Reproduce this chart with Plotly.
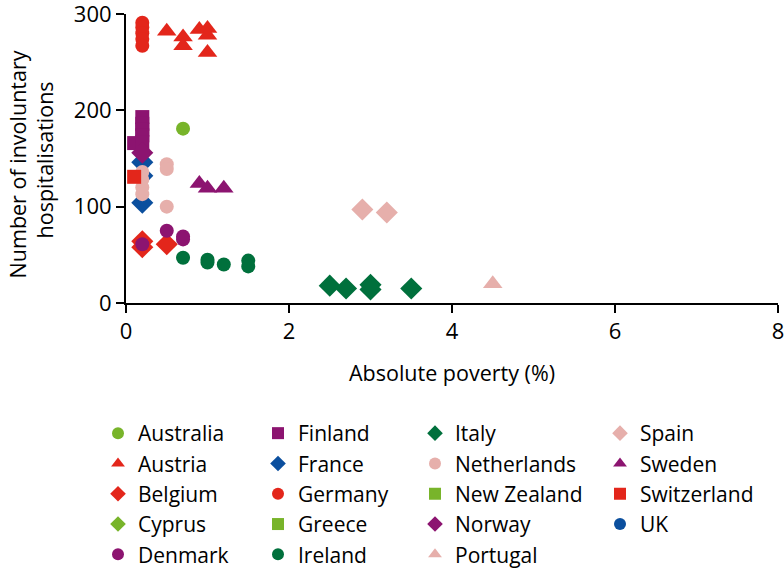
import plotly.graph_objects as go

# absolute poverty (%) vs number of involuntary hospitalisations, per country
countries = ["Australia", "Austria", "Belgium", "Cyprus", "Denmark",
             "Finland", "France", "Germany", "Greece", "Ireland",
             "Italy", "Netherlands", "New Zealand", "Norway", "Portugal",
             "Spain", "Sweden", "Switzerland", "UK"]

australia_x = [0.7]
australia_y = [181]
austria_x = [0.5, 0.7, 0.7, 0.9, 1.0, 1.0, 1.0]
austria_y = [282, 276, 267, 284, 285, 278, 260]
belgium_x = [0.2, 0.2, 0.5]
belgium_y = [64, 58, 61]
cyprus_x = [None]
cyprus_y = [None]
denmark_x = [0.2, 0.5, 0.7, 0.7]
denmark_y = [61, 75, 69, 66]
finland_x = [0.1, 0.2, 0.2, 0.2, 0.2, 0.2]
finland_y = [166, 193, 186, 180, 174, 167]
france_x = [0.2, 0.2, 0.2]
france_y = [146, 132, 104]
germany_x = [0.2, 0.2, 0.2, 0.2, 0.2]
germany_y = [291, 286, 280, 274, 267]
greece_x = [None]
greece_y = [None]
ireland_x = [0.7, 1.0, 1.0, 1.2, 1.5, 1.5]
ireland_y = [47, 45, 42, 40, 44, 38]
italy_x = [2.5, 2.7, 3.0, 3.0, 3.5]
italy_y = [18, 15, 19, 14, 15]
netherlands_x = [0.2, 0.2, 0.2, 0.2, 0.5, 0.5, 0.5]
netherlands_y = [136, 128, 120, 113, 144, 139, 100]
newzealand_x = [None]
newzealand_y = [None]
norway_x = [0.2]
norway_y = [156]
portugal_x = [4.5]
portugal_y = [20]
spain_x = [2.9, 3.2]
spain_y = [97, 94]
sweden_x = [0.9, 1.0, 1.2]
sweden_y = [124, 119, 119]
switzerland_x = [0.1]
switzerland_y = [131]
uk_x = [None]
uk_y = [None]

red = "#e3261b"
purple = "#8c1470"
blue = "#0b4f9e"
lgreen = "#78b42a"
dgreen = "#00703c"
pink = "#e6afab"

series = [
    ("Australia", australia_x, australia_y, "circle", lgreen),
    ("Austria", austria_x, austria_y, "triangle-up", red),
    ("Belgium", belgium_x, belgium_y, "diamond", red),
    ("Cyprus", cyprus_x, cyprus_y, "diamond", lgreen),
    ("Denmark", denmark_x, denmark_y, "circle", purple),
    ("Finland", finland_x, finland_y, "square", purple),
    ("France", france_x, france_y, "diamond", blue),
    ("Germany", germany_x, germany_y, "circle", red),
    ("Greece", greece_x, greece_y, "square", lgreen),
    ("Ireland", ireland_x, ireland_y, "circle", dgreen),
    ("Italy", italy_x, italy_y, "diamond", dgreen),
    ("Netherlands", netherlands_x, netherlands_y, "circle", pink),
    ("New Zealand", newzealand_x, newzealand_y, "square", lgreen),
    ("Norway", norway_x, norway_y, "diamond", purple),
    ("Portugal", portugal_x, portugal_y, "triangle-up", pink),
    ("Spain", spain_x, spain_y, "diamond", pink),
    ("Sweden", sweden_x, sweden_y, "triangle-up", purple),
    ("Switzerland", switzerland_x, switzerland_y, "square", red),
    ("UK", uk_x, uk_y, "circle", blue),
]

# four legend boxes = four columns, filled top to bottom
legend_names = ["legend", "legend2", "legend3", "legend4"]

fig = go.Figure()
for i, (name, xs, ys, sym, col) in enumerate(series):
    size = 14 if sym in ("circle", "square") else 17
    fig.add_trace(go.Scatter(
        x=xs, y=ys, mode="markers", name=name,
        marker=dict(symbol=sym, color=col, size=size, line=dict(width=0)),
        legend=legend_names[i // 5], cliponaxis=False,
    ))

font = "Open Sans"
leg_common = dict(xref="container", yref="container", yanchor="top", xanchor="left",
                  itemsizing="constant", itemwidth=30, bgcolor="rgba(0,0,0,0)",
                  font=dict(family=font, size=21, color="black"))
leg_x = [98, 258, 415, 600]
layout_legends = {}
for name, lx in zip(legend_names, leg_x):
    layout_legends[name] = dict(x=lx / 784, y=1 - 413 / 571, **leg_common)

axis_common = dict(showgrid=False, zeroline=False, automargin=False,
                   showline=True, linecolor="black", linewidth=2,
                   ticks="outside", ticklen=8, tickwidth=2, tickcolor="black",
                   tickfont=dict(size=22), ticklabeloverflow="allow")

fig.update_layout(
    width=784, height=571,
    margin=dict(l=126, r=6, t=14, b=268, autoexpand=False),
    plot_bgcolor="white", paper_bgcolor="white",
    font=dict(family=font, size=21, color="black"),
    showlegend=True,
    xaxis=dict(range=[0, 8], dtick=2, **axis_common),
    yaxis=dict(range=[0, 300], dtick=100, **axis_common),
    **layout_legends,
)

# axis titles (paper coords, plot area is 652 x 289 px)
fig.add_annotation(text="Absolute poverty (%)", xref="paper", yref="paper",
                   x=0.5, y=-0.239, xanchor="center", yanchor="middle",
                   showarrow=False, font=dict(size=21.5))
fig.add_annotation(text="Number of involuntary", xref="paper", yref="paper",
                   x=-0.167, y=0.48, xanchor="center", yanchor="middle",
                   showarrow=False, textangle=-90, font=dict(size=21.5))
fig.add_annotation(text="hospitalisations", xref="paper", yref="paper",
                   x=-0.125, y=0.495, xanchor="center", yanchor="middle",
                   showarrow=False, textangle=-90, font=dict(size=21.5))

fig.write_html("out.html", config={"displayModeBar": False},
               post_script="document.body.style.margin='0';")
